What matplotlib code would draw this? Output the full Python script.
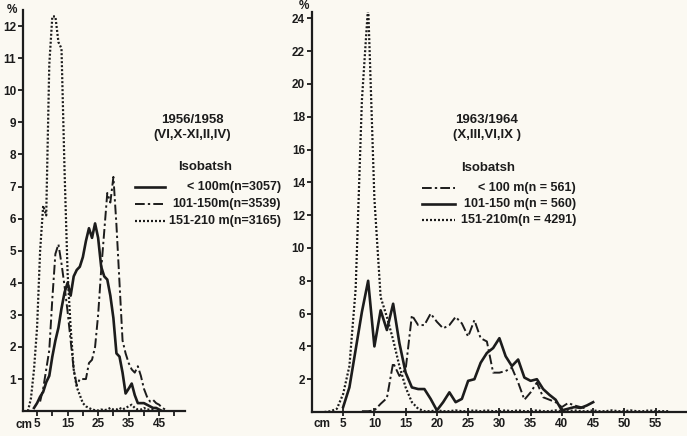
import matplotlib
matplotlib.use("Agg")
import matplotlib.pyplot as plt

plt.rcParams['font.family'] = ['Liberation Sans', 'DejaVu Sans']
plt.rcParams['font.weight'] = 'bold'

INK = '#1c1c1c'
PAPER = '#fbf9f2'

# ---- 1956/1958 (left panel) ----
left_cm_a = list(range(4, 47))
left_a = [0.1, 0.25, 0.45, 0.6, 0.9, 1.1, 1.7, 2.2, 2.6, 3.2, 3.7, 4.0, 3.6, 4.2, 4.4,
          4.5, 4.8, 5.3, 5.7, 5.4, 5.85, 5.4, 4.5, 4.2, 4.1, 3.6, 2.9, 1.8, 1.7, 1.2,
          0.55, 0.7, 0.86, 0.5, 0.25, 0.25, 0.25, 0.2, 0.15, 0.1, 0.1, 0.05, 0.0]
left_cm_b = list(range(6, 49))
left_b = [0.3, 0.7, 1.3, 1.9, 3.5, 4.9, 5.2, 4.6, 3.9, 3.1, 2.2, 1.3, 0.8, 1.0, 1.0,
          1.0, 1.5, 1.6, 2.0, 3.0, 4.4, 5.6, 6.8, 6.5, 7.3, 5.8, 4.0, 2.2, 1.8, 1.5,
          1.3, 1.2, 1.4, 1.1, 0.7, 0.45, 0.3, 0.35, 0.25, 0.2, 0.1, 0.05, 0.0]
left_cm_c = list(range(2, 45))
left_c = [0.0, 0.4, 1.3, 2.6, 5.0, 6.4, 6.1, 10.8, 12.3, 12.3, 11.5, 11.3, 7.5, 4.3,
          2.6, 1.3, 0.75, 0.5, 0.25, 0.15, 0.1, 0.05, 0.03, 0.02, 0.05, 0.03, 0.05,
          0.1, 0.05, 0.05, 0.1, 0.05, 0.1, 0.15, 0.2, 0.1, 0.05, 0.05, 0.1, 0.05,
          0.05, 0.05, 0.0]
left_labels = ['< 100m(n=3057)', '101-150m(n=3539)', '151-210 m(n=3165)']

# ---- 1963/1964 (right panel) ----
right_cm_a = list(range(8, 45))
right_a = [0.05, 0.05, 0.1, 0.5, 0.85, 3.0, 2.2, 2.6, 5.9, 5.3, 5.3, 6.0, 5.5, 5.1,
           5.3, 5.8, 5.4, 4.6, 5.6, 4.5, 4.3, 2.4, 2.4, 2.5, 2.7, 1.8, 0.75, 1.2,
           1.8, 0.9, 0.75, 0.6, 0.3, 0.55, 0.4, 0.3, 0.2]
right_cm_b = list(range(5, 46))
right_b = [0.3, 1.5, 3.8, 6.1, 8.0, 4.0, 6.2, 5.0, 6.6, 4.2, 2.4, 1.5, 1.4, 1.4, 0.8,
           0.1, 0.6, 1.2, 0.6, 0.8, 1.9, 2.0, 3.0, 3.6, 3.9, 4.5, 3.4, 2.8, 3.2, 2.1,
           1.9, 2.0, 1.4, 1.05, 0.75, 0.1, 0.2, 0.3, 0.25, 0.4, 0.6]
right_cm_c = list(range(2, 58))
right_c = [0.0, 0.05, 0.2, 1.1, 2.8, 7.5, 19.0, 24.8, 13.0, 7.0, 5.8, 4.4, 2.8, 1.5,
           0.6, 0.2, 0.05, 0.05, 0.1, 0.05, 0.05, 0.1, 0.05, 0.05, 0.1, 0.05, 0.1,
           0.05, 0.05, 0.1, 0.05, 0.1, 0.05, 0.05, 0.1, 0.05, 0.05, 0.1, 0.05, 0.05,
           0.1, 0.05, 0.05, 0.1, 0.05, 0.05, 0.1, 0.05, 0.05, 0.1, 0.05, 0.05, 0.1,
           0.05, 0.05, 0.05]
right_labels = ['< 100 m(n = 561)', '101-150 m(n = 560)', '151-210m(n = 4291)']

SOLID = dict(color=INK, lw=1.9, linestyle='-')
DASHDOT = dict(color=INK, lw=1.4, linestyle=(0, (5, 1.6, 1.2, 1.6)))
DOTTED = dict(color=INK, lw=1.6, linestyle=(0, (0.9, 0.9)))

fig = plt.figure(figsize=(6.87, 4.36), dpi=100, facecolor=PAPER)
ax1 = fig.add_axes([0.0335, 0.057, 0.236, 0.92])
ax2 = fig.add_axes([0.454, 0.055, 0.544, 0.918])

for ax in (ax1, ax2):
    ax.set_facecolor(PAPER)
    ax.spines['top'].set_visible(False)
    ax.spines['right'].set_visible(False)
    for s in ('left', 'bottom'):
        ax.spines[s].set_linewidth(1.6)
        ax.spines[s].set_color(INK)
    ax.tick_params(colors=INK, width=1.3, length=3.5, labelsize=8.5, pad=1.5)

# left panel
ax1.plot(left_cm_a, left_a, **SOLID)
ax1.plot(left_cm_b, left_b, **DASHDOT)
ax1.plot(left_cm_c, left_c, **DOTTED)
ax1.set_xlim(0.4, 53.5)
ax1.set_ylim(0, 12.5)
ax1.set_yticks(range(1, 13))
ax1.set_xticks(range(5, 55, 5))
ax1.set_xticklabels(['5', '', '15', '', '25', '', '35', '', '45', ''])
ax1.annotate('%', xy=(0, 1), xycoords='axes fraction', xytext=(-4, 0),
             textcoords='offset points', ha='right', va='center',
             fontsize=8.5, color=INK)
ax1.annotate('cm', xy=(3.4, 0), xycoords='data', xytext=(0, -5.5),
             textcoords='offset points', ha='right', va='top',
             fontsize=8.5, color=INK)

fig.text(192 / 687, 1 - 120 / 436, '1956/1958', ha='center', va='center',
         fontsize=9.5, color=INK)
fig.text(192 / 687, 1 - 135 / 436, '(VI,X-XI,II,IV)', ha='center', va='center',
         fontsize=9.5, color=INK)
fig.text(205 / 687, 1 - 167 / 436, 'Isobatsh', ha='center', va='center',
         fontsize=9.5, color=INK)
for i, (lab, st) in enumerate(zip(left_labels, (SOLID, DASHDOT, DOTTED))):
    y = 1 - (187 + 17 * i) / 436
    fig.add_artist(plt.Line2D([135 / 687, 165 / 687], [y, y], **st))
    fig.text(281 / 687, y, lab, ha='right', va='center', fontsize=9, color=INK)

# right panel
ax2.plot(right_cm_a, right_a, **DASHDOT)
ax2.plot(right_cm_b, right_b, **SOLID)
ax2.plot(right_cm_c, right_c, **DOTTED)
ax2.set_xlim(0, 59.8)
ax2.set_ylim(0, 24.4)
ax2.set_yticks(range(2, 26, 2))
ax2.set_xticks(range(5, 60, 5))
ax2.tick_params(axis='x', direction='inout', length=6)
ax2.annotate('%', xy=(0, 1), xycoords='axes fraction', xytext=(-2, 4),
             textcoords='offset points', ha='right', va='center',
             fontsize=8.5, color=INK)
ax2.annotate('cm', xy=(1.6, 0), xycoords='data', xytext=(0, -4.5),
             textcoords='offset points', ha='center', va='top',
             fontsize=8.5, color=INK)

fig.text(487 / 687, 1 - 120 / 436, '1963/1964', ha='center', va='center',
         fontsize=9.5, color=INK)
fig.text(487 / 687, 1 - 135 / 436, '(X,III,VI,IX )', ha='center', va='center',
         fontsize=9.5, color=INK)
fig.text(488 / 687, 1 - 168 / 436, 'Isobatsh', ha='center', va='center',
         fontsize=9.5, color=INK)
for i, (lab, st) in enumerate(zip(right_labels, (DASHDOT, SOLID, DOTTED))):
    y = 1 - (188 + 16 * i) / 436
    fig.add_artist(plt.Line2D([422 / 687, 455 / 687], [y, y], **st))
    fig.text(576 / 687, y, lab, ha='right', va='center', fontsize=9, color=INK)

fig.savefig('out.png', dpi=100, facecolor=PAPER)
